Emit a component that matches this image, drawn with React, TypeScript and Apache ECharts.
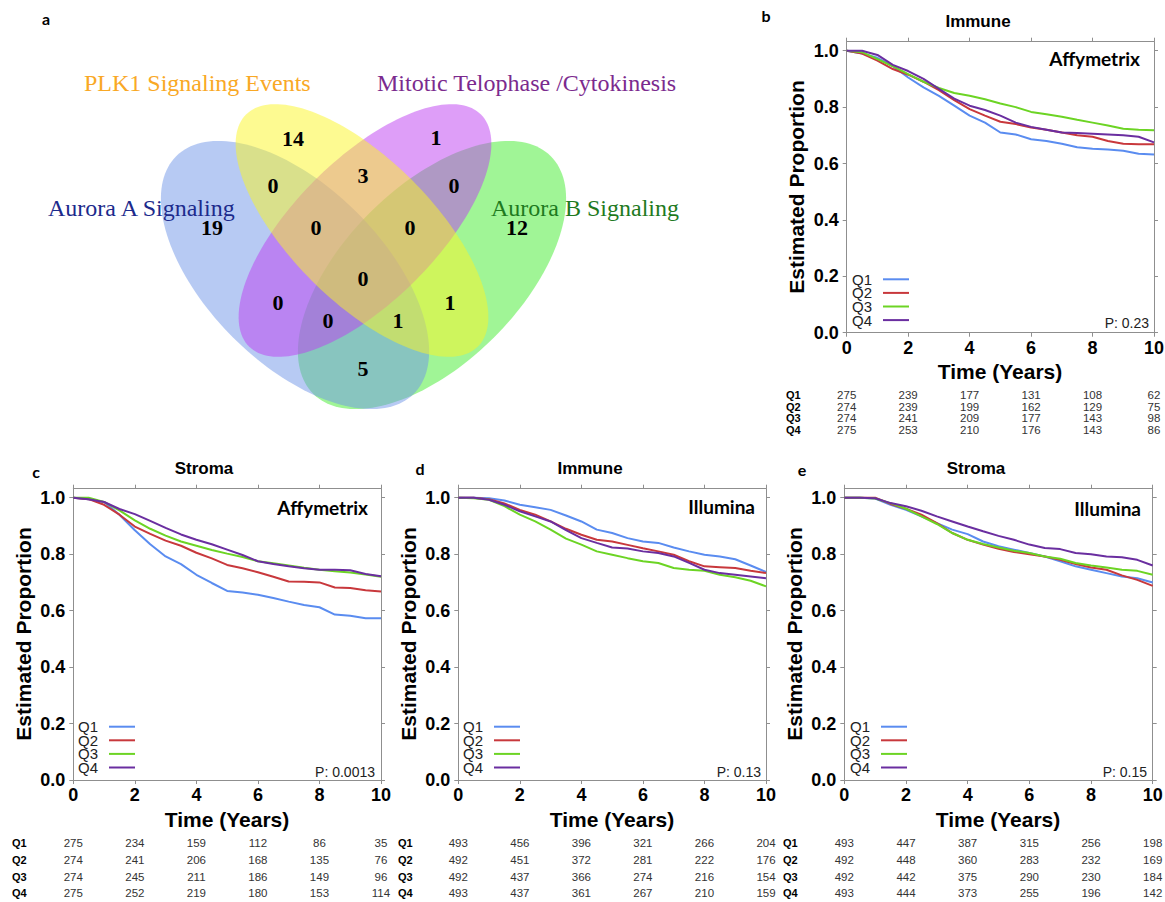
import React, { useEffect, useRef } from "react";
import * as echarts from "echarts";

// ---------------- DATA ----------------
const years = [0, 0.5, 1, 1.5, 2, 2.5, 3, 3.5, 4, 4.5, 5, 5.5, 6, 6.5, 7, 7.5, 8, 8.5, 9, 9.5, 10];
const xTicks = [0, 2, 4, 6, 8, 10];
const yTicks = [0, 0.2, 0.4, 0.6, 0.8, 1.0];
const groups = ["Q1", "Q2", "Q3", "Q4"];

// b: Immune, Affymetrix
const b_Q1 = [1, 0.99, 0.975, 0.945, 0.905, 0.87, 0.84, 0.805, 0.77, 0.745, 0.71, 0.703, 0.686, 0.68, 0.67, 0.658, 0.652, 0.65, 0.645, 0.635, 0.632];
const b_Q2 = [1, 0.99, 0.965, 0.935, 0.915, 0.89, 0.86, 0.825, 0.793, 0.77, 0.748, 0.74, 0.728, 0.72, 0.71, 0.7, 0.695, 0.68, 0.67, 0.668, 0.668];
const b_Q3 = [1, 0.995, 0.97, 0.945, 0.917, 0.89, 0.868, 0.85, 0.84, 0.828, 0.813, 0.8, 0.783, 0.775, 0.766, 0.755, 0.745, 0.735, 0.723, 0.72, 0.718];
const b_Q4 = [1, 1, 0.985, 0.95, 0.928, 0.9, 0.865, 0.83, 0.805, 0.79, 0.77, 0.745, 0.73, 0.72, 0.71, 0.708, 0.706, 0.703, 0.7, 0.695, 0.675];
// c: Stroma, Affymetrix
const c_Q1 = [1, 0.995, 0.985, 0.94, 0.885, 0.835, 0.792, 0.765, 0.727, 0.698, 0.67, 0.664, 0.656, 0.645, 0.632, 0.62, 0.612, 0.586, 0.582, 0.573, 0.573];
const c_Q2 = [1, 0.995, 0.975, 0.94, 0.898, 0.872, 0.848, 0.83, 0.805, 0.785, 0.762, 0.75, 0.736, 0.72, 0.703, 0.702, 0.7, 0.682, 0.68, 0.672, 0.668];
const c_Q3 = [1, 1, 0.985, 0.955, 0.92, 0.89, 0.866, 0.845, 0.83, 0.815, 0.802, 0.79, 0.775, 0.768, 0.76, 0.752, 0.745, 0.74, 0.735, 0.728, 0.72];
const c_Q4 = [1, 0.995, 0.985, 0.96, 0.942, 0.918, 0.893, 0.87, 0.851, 0.835, 0.816, 0.797, 0.775, 0.765, 0.757, 0.75, 0.745, 0.745, 0.743, 0.73, 0.722];
// d: Immune, Illumina
const d_Q1 = [1, 1, 0.998, 0.99, 0.975, 0.966, 0.957, 0.937, 0.916, 0.887, 0.875, 0.857, 0.845, 0.84, 0.824, 0.81, 0.798, 0.792, 0.782, 0.76, 0.737];
const d_Q2 = [1, 1, 0.995, 0.98, 0.957, 0.94, 0.916, 0.89, 0.869, 0.851, 0.845, 0.833, 0.821, 0.81, 0.798, 0.775, 0.757, 0.754, 0.751, 0.741, 0.733];
const d_Q3 = [1, 0.998, 0.993, 0.97, 0.94, 0.916, 0.887, 0.855, 0.834, 0.81, 0.798, 0.786, 0.775, 0.769, 0.751, 0.745, 0.741, 0.727, 0.718, 0.706, 0.686];
const d_Q4 = [1, 1, 0.993, 0.975, 0.952, 0.934, 0.916, 0.885, 0.857, 0.84, 0.824, 0.82, 0.81, 0.804, 0.792, 0.769, 0.745, 0.733, 0.727, 0.721, 0.715];
// e: Stroma, Illumina
const e_Q1 = [1, 1, 0.997, 0.975, 0.957, 0.934, 0.91, 0.887, 0.871, 0.845, 0.828, 0.816, 0.804, 0.792, 0.775, 0.757, 0.745, 0.733, 0.721, 0.715, 0.7];
const e_Q2 = [1, 1, 1, 0.978, 0.961, 0.94, 0.91, 0.875, 0.851, 0.834, 0.819, 0.808, 0.8, 0.792, 0.78, 0.765, 0.753, 0.745, 0.725, 0.709, 0.688];
const e_Q3 = [1, 1, 0.997, 0.981, 0.961, 0.934, 0.907, 0.875, 0.851, 0.836, 0.824, 0.812, 0.804, 0.792, 0.784, 0.769, 0.76, 0.753, 0.745, 0.741, 0.727];
const e_Q4 = [1, 1, 0.998, 0.981, 0.97, 0.954, 0.934, 0.916, 0.898, 0.881, 0.865, 0.851, 0.834, 0.822, 0.818, 0.804, 0.8, 0.792, 0.789, 0.78, 0.76];

// numbers at risk (at 0,2,4,6,8,10 years)
const riskB = [[275, 239, 177, 131, 108, 62], [274, 239, 199, 162, 129, 75], [274, 241, 209, 177, 143, 98], [275, 253, 210, 176, 143, 86]];
const riskC = [[275, 234, 159, 112, 86, 35], [274, 241, 206, 168, 135, 76], [274, 245, 211, 186, 149, 96], [275, 252, 219, 180, 153, 114]];
const riskD = [[493, 456, 396, 321, 266, 204], [492, 451, 372, 281, 222, 176], [492, 437, 366, 274, 216, 154], [493, 437, 361, 267, 210, 159]];
const riskE = [[493, 447, 387, 315, 256, 198], [492, 448, 360, 283, 232, 169], [492, 442, 375, 290, 230, 184], [493, 444, 373, 255, 196, 142]];

const pValues = ["P: 0.23", "P: 0.0013", "P: 0.13", "P: 0.15"];
const platforms = ["Affymetrix", "Affymetrix", "Illumina", "Illumina"];
const panelTitles = ["Immune", "Stroma", "Immune", "Stroma"];

// Venn
const vennSets = ["Aurora A Signaling", "PLK1 Signaling Events", "Mitotic Telophase /Cytokinesis", "Aurora B Signaling"];
const vennCounts = [14, 1, 0, 3, 0, 19, 0, 0, 12, 0, 0, 1, 0, 1, 5];

// ---------------- STYLE / LAYOUT ----------------
const QCOLORS = ["#5a8cf0", "#c8383c", "#6cd424", "#6a2ea0"];
const SANS = "Liberation Sans, Arial, sans-serif";
const SERIF = "Liberation Serif, Times New Roman, serif";
const CAL = "Lato, Carlito, sans-serif";
const FRAME = "#8f8f8f";
const YMAX = 1.032;

const panels = [
  { left: 846.7, top: 41.7, width: 307.3, unit: 282, data: [b_Q1, b_Q2, b_Q3, b_Q4], risk: riskB, letter: "b", letterX: 766, letterY: 15, titleX: 978, titleY: 21, platX: 1140, platY: 58, pX: 1149, pY: 323, legX: 852, legY: 279.3, legLineX: 883, ylabX: 796, ylabY: 187, xlabX: 1000, xlabY: 371, tabLabX: 786, tabY: 395, tabDY: 11.7 },
  { left: 73.3, top: 488.7, width: 307.7, unit: 282.3, data: [c_Q1, c_Q2, c_Q3, c_Q4], risk: riskC, letter: "c", letterX: 36, letterY: 471, titleX: 204, titleY: 468, platX: 368, platY: 507, pX: 375, pY: 772, legX: 78, legY: 726.7, legLineX: 109, ylabX: 23, ylabY: 634, xlabX: 227, xlabY: 819, tabLabX: 12, tabY: 843.3, tabDY: 16.7 },
  { left: 458.3, top: 488.7, width: 307.7, unit: 282.3, data: [d_Q1, d_Q2, d_Q3, d_Q4], risk: riskD, letter: "d", letterX: 420, letterY: 468, titleX: 590, titleY: 468, platX: 755, platY: 506, pX: 761, pY: 772, legX: 463, legY: 726.7, legLineX: 494, ylabX: 408, ylabY: 634, xlabX: 612, xlabY: 819, tabLabX: 398, tabY: 843.3, tabDY: 16.7 },
  { left: 844.3, top: 488.7, width: 308.4, unit: 282.3, data: [e_Q1, e_Q2, e_Q3, e_Q4], risk: riskE, letter: "e", letterX: 802, letterY: 469, titleX: 976, titleY: 468, platX: 1141, platY: 508, pX: 1147, pY: 772, legX: 850, legLineX: 881, legY: 726.7, ylabX: 794, ylabY: 634, xlabX: 998, xlabY: 819, tabLabX: 783, tabY: 843.3, tabDY: 16.7 },
];

// ellipse geometry for venn
const vennEllipses = [
  { cx: 432, cy: 275, a: 168, b: 88, ang: -45, rgb: "65,235,45" }, // Aurora B (green)
  { cx: 295, cy: 275, a: 168, b: 88, ang: 45, rgb: "111,149,231" }, // Aurora A (blue)
  { cx: 365, cy: 230.5, a: 164, b: 71, ang: -45, rgb: "189,61,241" }, // Mitotic (magenta)
  { cx: 362, cy: 230.5, a: 164, b: 71, ang: 45, rgb: "251,245,35" }, // PLK1 (yellow)
];
const vennCountPos = [[293, 138], [436, 137], [273, 185], [363, 175], [454, 185], [212, 227], [316, 227], [410, 227], [517, 227], [363, 278], [278, 302], [450, 302], [328, 320], [398, 320], [363, 368]];
const vennLabelPos = [
  { x: 48, y: 208, fill: "#1c2a8c", align: "left" },
  { x: 84, y: 83, fill: "#f9a825", align: "left" },
  { x: 377, y: 83, fill: "#7b2a8e", align: "left" },
  { x: 491, y: 208, fill: "#1e7a1e", align: "left" },
];

function ellipsePoints(cx: number, cy: number, a: number, b: number, deg: number) {
  const th = (deg * Math.PI) / 180;
  const pts: number[][] = [];
  const n = 160;
  for (let i = 0; i < n; i++) {
    const p = (i / n) * 2 * Math.PI;
    pts.push([
      cx + a * Math.cos(p) * Math.cos(th) - b * Math.sin(p) * Math.sin(th),
      cy + a * Math.cos(p) * Math.sin(th) + b * Math.sin(p) * Math.cos(th),
    ]);
  }
  return pts;
}

function txt(text: string, x: number, y: number, o: any = {}) {
  return {
    type: "text",
    x,
    y,
    rotation: o.rotation || 0,
    z: 20,
    style: {
      text,
      fill: o.fill || "#000",
      fontSize: o.size || 12,
      fontWeight: o.weight || "normal",
      fontFamily: o.family || SANS,
      align: o.align || "center",
      verticalAlign: "middle",
    },
  };
}

function buildOption() {
  const grid: any[] = [];
  const xAxis: any[] = [];
  const yAxis: any[] = [];
  const series: any[] = [];
  const elements: any[] = [];

  const yFmt = (v: number) => (Math.abs(v * 5 - Math.round(v * 5)) < 1e-6 && v <= 1.0001 ? v.toFixed(1) : "");

  panels.forEach((p, i) => {
    grid.push({ left: p.left, top: p.top, width: p.width, height: p.unit * YMAX, containLabel: false, outerBoundsMode: "none" });
    const common = { type: "value", gridIndex: i, splitLine: { show: false } };
    xAxis.push({
      ...common, position: "bottom", min: 0, max: 10, interval: 2,
      axisLine: { show: true, onZero: false, lineStyle: { color: FRAME, width: 1 } },
      axisTick: { show: true, inside: false, length: 4, lineStyle: { color: FRAME } },
      axisLabel: { show: true, margin: 6, color: "#000", fontSize: 18, fontWeight: "bold", fontFamily: SANS },
    });
    xAxis.push({
      ...common, position: "top", min: 0, max: 10, interval: 2,
      axisLine: { show: true, onZero: false, lineStyle: { color: FRAME, width: 1 } },
      axisTick: { show: true, inside: false, length: 4, lineStyle: { color: FRAME } },
      axisLabel: { show: false },
    });
    yAxis.push({
      ...common, position: "left", min: 0, max: YMAX, interval: 0.2,
      axisLine: { show: true, onZero: false, lineStyle: { color: FRAME, width: 1 } },
      axisTick: { show: true, inside: false, length: 4, lineStyle: { color: FRAME }, customValues: yTicks },
      axisLabel: { show: true, margin: 8, color: "#000", fontSize: 18, fontWeight: "bold", fontFamily: SANS, customValues: yTicks, formatter: yFmt },
    });
    yAxis.push({
      ...common, position: "right", min: 0, max: YMAX, interval: 0.2,
      axisLine: { show: true, onZero: false, lineStyle: { color: FRAME, width: 1 } },
      axisTick: { show: true, inside: false, length: 4, lineStyle: { color: FRAME }, customValues: yTicks },
      axisLabel: { show: false },
    });

    p.data.forEach((arr, q) => {
      series.push({
        type: "line",
        name: `${p.letter}-${groups[q]}`,
        xAxisIndex: 2 * i,
        yAxisIndex: 2 * i,
        data: years.map((t, k) => [t, arr[k]]),
        showSymbol: false,
        symbol: "none",
        clip: true,
        lineStyle: { color: QCOLORS[q], width: 2 },
        z: 5 + q,
      });
    });

    // texts
    elements.push(txt(p.letter, p.letterX, p.letterY, { size: 16, weight: "bold", family: CAL }));
    elements.push(txt(panelTitles[i], p.titleX, p.titleY, { size: 17, weight: "bold" }));
    elements.push(txt(platforms[i], p.platX, p.platY, { size: 19, weight: "bold", family: CAL, align: "right" }));
    elements.push(txt(pValues[i], p.pX, p.pY, { size: 14, fill: "#222", align: "right" }));
    elements.push(txt("Estimated Proportion", p.ylabX, p.ylabY, { size: 21, weight: "bold", rotation: Math.PI / 2 }));
    elements.push(txt("Time (Years)", p.xlabX, p.xlabY, { size: 21, weight: "bold" }));
    groups.forEach((g, q) => {
      const y = p.legY + q * 13.6;
      elements.push(txt(g, p.legX, y, { size: 15, fill: "#222", align: "left" }));
      elements.push({ type: "line", z: 20, shape: { x1: p.legLineX, y1: y, x2: p.legLineX + 26, y2: y }, style: { stroke: QCOLORS[q], lineWidth: 2 } });
      const ty = p.tabY + q * p.tabDY;
      elements.push(txt(g, p.tabLabX, ty, { size: 11, weight: "bold", align: "left" }));
      p.risk[q].forEach((v, k) => {
        const x = p.left + (xTicks[k] / 10) * p.width;
        elements.push(txt(String(v), x, ty, { size: 11.5, fill: "#333" }));
      });
    });
  });

  // Venn diagram (panel a)
  elements.push(txt("a", 46, 18, { size: 16, weight: "bold", family: CAL }));
  vennEllipses.forEach((e) => {
    elements.push({ type: "polygon", z: 1, shape: { points: ellipsePoints(e.cx, e.cy, e.a, e.b, e.ang) }, style: { fill: `rgba(${e.rgb},0.5)`, stroke: "none" } });
  });
  vennSets.forEach((s, k) => {
    const l = vennLabelPos[k];
    elements.push(txt(s, l.x, l.y, { size: 24, fill: l.fill, family: SERIF, align: l.align }));
  });
  vennCounts.forEach((c, k) => {
    elements.push(txt(String(c), vennCountPos[k][0], vennCountPos[k][1], { size: 22, weight: "bold", family: SERIF }));
  });

  return { animation: false, backgroundColor: "#ffffff", grid, xAxis, yAxis, series, graphic: { elements } };
}

export default function App() {
  const ref = useRef<HTMLDivElement>(null);
  useEffect(() => {
    if (!ref.current) return;
    const chart = echarts.init(ref.current, undefined, { renderer: "svg" });
    chart.setOption(buildOption() as any);
    return () => chart.dispose();
  }, []);
  return <div ref={ref} style={{ position: "absolute", left: 0, top: 0, width: 1165, height: 902, background: "#fff" }} />;
}
